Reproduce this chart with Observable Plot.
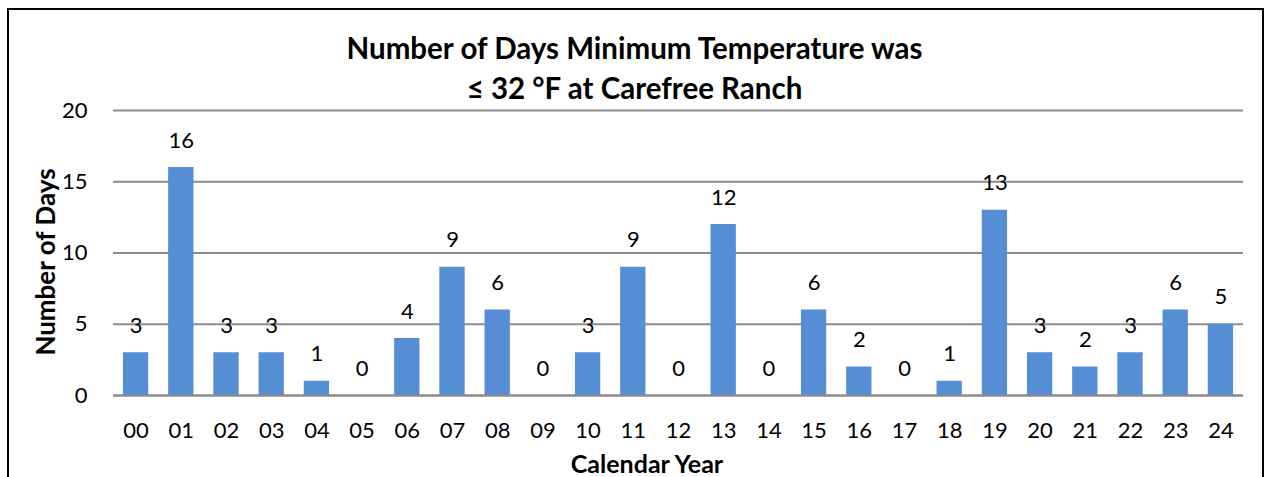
<!DOCTYPE html>
<html>
<head>
<meta charset="utf-8">
<script src="https://cdn.jsdelivr.net/npm/d3@7"></script>
<script src="https://cdn.jsdelivr.net/npm/@observablehq/plot@0.6"></script>
<style>
  html, body { margin: 0; padding: 0; background: #fff; overflow: hidden; }
  #wrap { position: relative; width: 1269px; height: 477px; font-family: Lato, "Open Sans", sans-serif; }
  #frame { position: absolute; left: 7px; top: 8px; width: 1257px; height: 500px; border: 2px solid #000; box-sizing: border-box; }
  #title { position: absolute; left: 0; top: 28px; width: 1269px; text-align: center; font-weight: bold; font-size: 29.5px; line-height: 40px; color: #000; }
  #xlabel { position: absolute; left: 497px; width: 300px; top: 448px; text-align: center; font-weight: bold; font-size: 25px; line-height: 30px; color: #000; }
  #ylabel { position: absolute; left: 45px; top: 262px; transform: translate(-50%, -50%) rotate(-90deg); white-space: nowrap; font-weight: bold; font-size: 26px; color: #000; }
  #chart { position: absolute; left: 0; top: 0; }
</style>
</head>
<body>
<div id="wrap">
  <div id="frame"></div>
  <div id="chart"></div>
  <div id="title">Number of Days Minimum Temperature was<br>≤ 32 °F at Carefree Ranch</div>
  <div id="ylabel">Number of Days</div>
  <div id="xlabel">Calendar Year</div>
</div>
<script>
const years = ["00","01","02","03","04","05","06","07","08","09","10","11","12","13","14","15","16","17","18","19","20","21","22","23","24"];
const days  = [3,16,3,3,1,0,4,9,6,0,3,9,0,12,0,6,2,0,1,13,3,2,3,6,5];
const yTicks = [0,5,10,15,20];

const data = years.map((y, i) => ({year: y, days: days[i]}));

const chart = Plot.plot({
  width: 1269,
  height: 477,
  marginLeft: 113,
  marginRight: 26,
  marginTop: 110,
  marginBottom: 82,
  style: {fontFamily: "Lato, 'Open Sans', sans-serif", fontSize: "22px", color: "#000", background: "transparent"},
  x: {domain: years, paddingInner: 0.44, paddingOuter: 0.22, round: false, label: null},
  y: {domain: [0, 20], ticks: yTicks, label: null},
  marks: [
    Plot.gridY(yTicks, {stroke: "#8c8c8c", strokeOpacity: 1, strokeWidth: 2}),
    Plot.barY(data, {x: "year", y: "days", fill: "#558ed5"}),
    Plot.ruleY([0], {stroke: "#8c8c8c", strokeWidth: 2}),
    Plot.text(data, {x: "year", y: "days", text: d => String(d.days), dy: -27, fontSize: 22, fill: "#000"}),
    Plot.axisX({tickSize: 0, tickPadding: 27, fontSize: 22, label: null}),
    Plot.axisY({ticks: yTicks, tickSize: 0, tickPadding: 26, fontSize: 22, label: null})
  ]
});
document.getElementById("chart").appendChild(chart);
</script>
</body>
</html>
